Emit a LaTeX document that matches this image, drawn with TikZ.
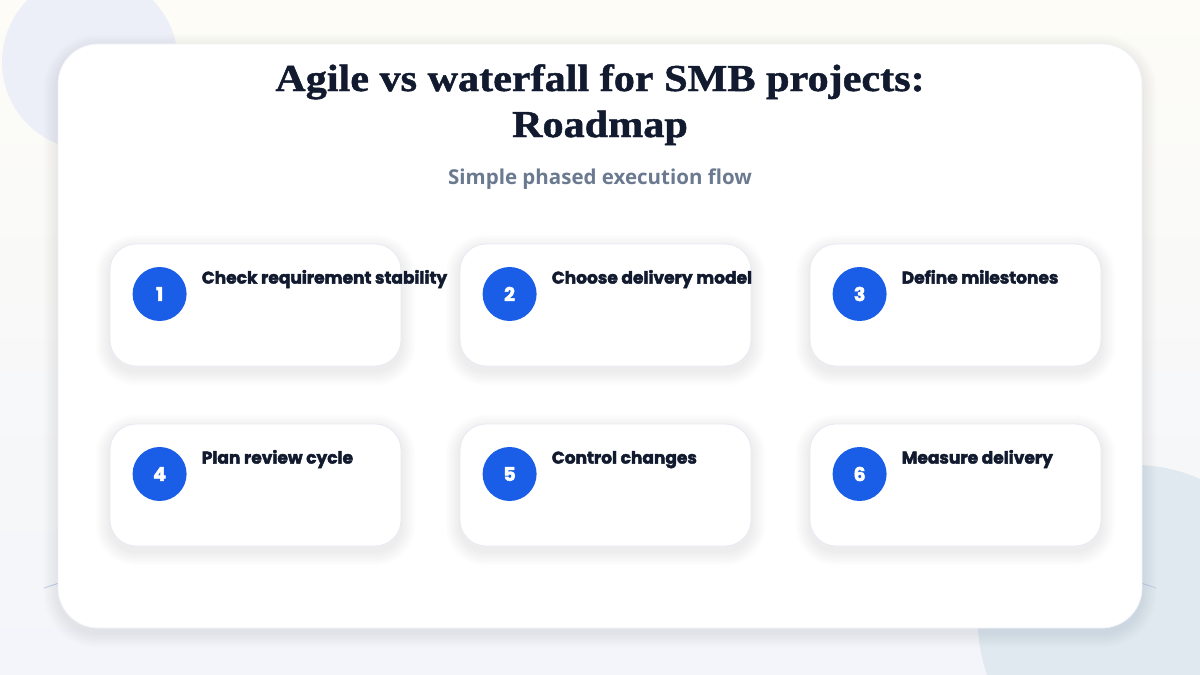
\documentclass[tikz,border=0pt]{standalone}
\usepackage{fontspec}
\setmainfont{Liberation Serif}[BoldFeatures={FakeStretch=1.11, FakeBold=1.2}]
\newfontfamily\subfont{Open Sans}
\newfontfamily\cardfont{Poppins}[BoldFeatures={FakeBold=2.5}]
\definecolor{bgtop}{HTML}{FDFCF7}
\definecolor{bgbot}{HTML}{F3F5FA}
\definecolor{blobA}{HTML}{ECEFF7}
\definecolor{blobB}{HTML}{DCE7EE}
\definecolor{navy}{HTML}{111A2E}
\definecolor{subgray}{HTML}{6B7A90}
\definecolor{stepblue}{HTML}{1A5EE8}
\definecolor{cardedge}{HTML}{E6EAF3}
\definecolor{linecol}{HTML}{C3CEE6}
\definecolor{shadowcol}{HTML}{5A6A90}
\newcommand{\softshade}[6]{% x1 y1 x2 y2 radius drop
  \foreach \k in {1,...,9}{
    \fill[shadowcol, opacity=0.012, rounded corners=#5+\k*1.6pt]
      (#1-\k*1.6, #2-\k*1.6+#6) rectangle (#3+\k*1.6, #4+\k*1.6+#6);
  }
}
\tikzset{
  stepcard/.style={draw=cardedge, line width=0.8pt, fill=white, rounded corners=26pt,
    minimum width=291pt, minimum height=122pt, inner sep=0pt},
  stepnum/.style={circle, fill=stepblue, minimum size=54pt, inner sep=0pt, text=white,
    font=\cardfont\bfseries\fontsize{19}{20}\selectfont},
  steplabel/.style={anchor=base west, text=navy, inner sep=0pt,
    font=\cardfont\bfseries\fontsize{17}{20}\selectfont},
  titletext/.style={font=\bfseries\fontsize{38}{44}\selectfont, text=navy, anchor=base, inner sep=0pt},
}
\begin{document}
\begin{tikzpicture}[x=1pt, y=-1pt]
\useasboundingbox (0,0) rectangle (1200,675);
\shade[top color=bgtop, bottom color=bgbot] (0,0) rectangle (1200,675);
\fill[blobA] (90,62) circle (88);
\fill[blobB, opacity=0.85] (1135,622) circle (157);
\draw[linecol, line width=0.9pt] (44,588) .. controls (300,500) and (900,500) .. (1156,588);
% outer card
\softshade{58}{44}{1142}{628}{40pt}{5}
\node[draw=cardedge!60, line width=0.8pt, fill=white, rounded corners=40pt, minimum width=1084pt,
  minimum height=584pt, inner sep=0pt] (outer) at (600,336) {};
% titles
\node[titletext] (t1) at (600,91) {Agile vs waterfall for SMB projects:};
\node[titletext] (t2) at (600,137) {Roadmap};
\node[font=\subfont\bfseries\fontsize{20.5}{24}\selectfont, text=subgray, anchor=base, inner sep=0pt] (sub) at (600,184) {Simple phased execution flow};
% cards
\foreach \i/\cx/\cy/\txt in {1/255.5/305/Check requirement stability, 2/605.5/305/Choose delivery model, 3/955.5/305/Define milestones,
  4/255.5/485/Plan review cycle, 5/605.5/485/Control changes, 6/955.5/485/Measure delivery}{
  \softshade{\cx-145.5}{\cy-61}{\cx+145.5}{\cy+61}{26pt}{5}
  \node[stepcard] (card\i) at (\cx,\cy) {};
  \node[stepnum] (num\i) at ([xshift=50pt, yshift=11pt]card\i.west) {\i};
  \node[steplabel] (lab\i) at ([xshift=92pt, yshift=-40pt]card\i.north west) {\txt};
}
\end{tikzpicture}
\end{document}
